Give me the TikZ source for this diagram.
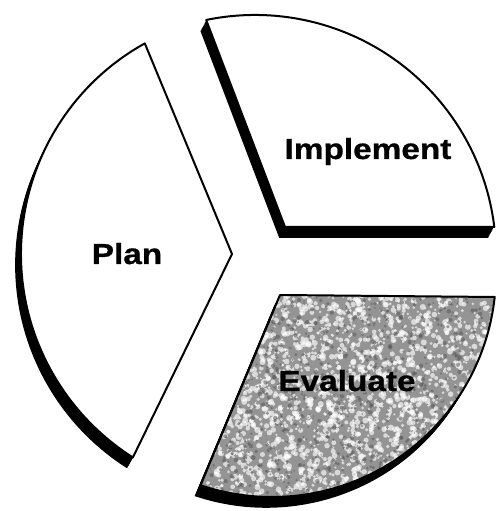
\documentclass[tikz,border=0pt]{standalone}
\usepackage{fontspec}
\setmainfont{Liberation Sans}
\newfontfamily\lblfont{Liberation Sans Bold}[FakeBold=0.7]
\begin{document}
\begin{tikzpicture}[x=1pt,y=1pt,
  outline/.style={draw=black,line width=2pt,line join=round},
  lbl/.style={font=\fontsize{29}{32}\lblfont,inner sep=0pt,anchor=base,xscale=1.15}]
\useasboundingbox (0,0) rectangle (496,511);
\fill[white] (0,0) rectangle (496,511);
\def\planpath{(232,257) -- (144.8,467.6) arc[start angle=119.1,end angle=237.6,radius=241pt] -- cycle}
\def\implpath{(285,284) -- (494.3,284) arc[start angle=6.9,end angle=101.7,radius=241pt] -- cycle}
\def\evalpath{(280,216) -- (494.7,214) arc[start angle=-6.15,end angle=-108.6,radius=224pt] -- cycle}
% swept shadows
\foreach \t in {0,0.1,...,1.0}{
  \begin{scope}[shift={(-6.5*\t,-12*\t)}]
    \fill[black] \planpath;
    \fill[black] \implpath;
    \fill[black] \evalpath;
  \end{scope}
}
% plan
\fill[white] \planpath;
\draw[outline] \planpath;
% implement
\fill[white] \implpath;
\draw[outline] \implpath;
% evaluate with mottled texture
\begin{scope}
  \clip \evalpath;
  \fill[black!42] (190,10) rectangle (500,225);
  \pgfmathsetseed{7}
  \foreach \i in {1,...,2400}{
    \pgfmathsetmacro\xx{195+rnd*302}
    \pgfmathsetmacro\yy{15+rnd*205}
    \pgfmathsetmacro\rr{1.1+rnd*2.0}
    \fill[white,opacity=0.65] (\xx,\yy) circle[radius=\rr pt];
  }
  \foreach \i in {1,...,1100}{
    \pgfmathsetmacro\xx{195+rnd*302}
    \pgfmathsetmacro\yy{15+rnd*205}
    \pgfmathsetmacro\rr{0.8+rnd*1.5}
    \fill[black!65,opacity=0.55] (\xx,\yy) circle[radius=\rr pt];
  }
\end{scope}
\draw[outline] \evalpath;
% labels
\node[lbl] (implement) at (368,352) {Implement};
\node[lbl] (plan) at (127,247) {Plan};
\node[lbl] (evaluate) at (347,120) {Evaluate};
\end{tikzpicture}
\end{document}
